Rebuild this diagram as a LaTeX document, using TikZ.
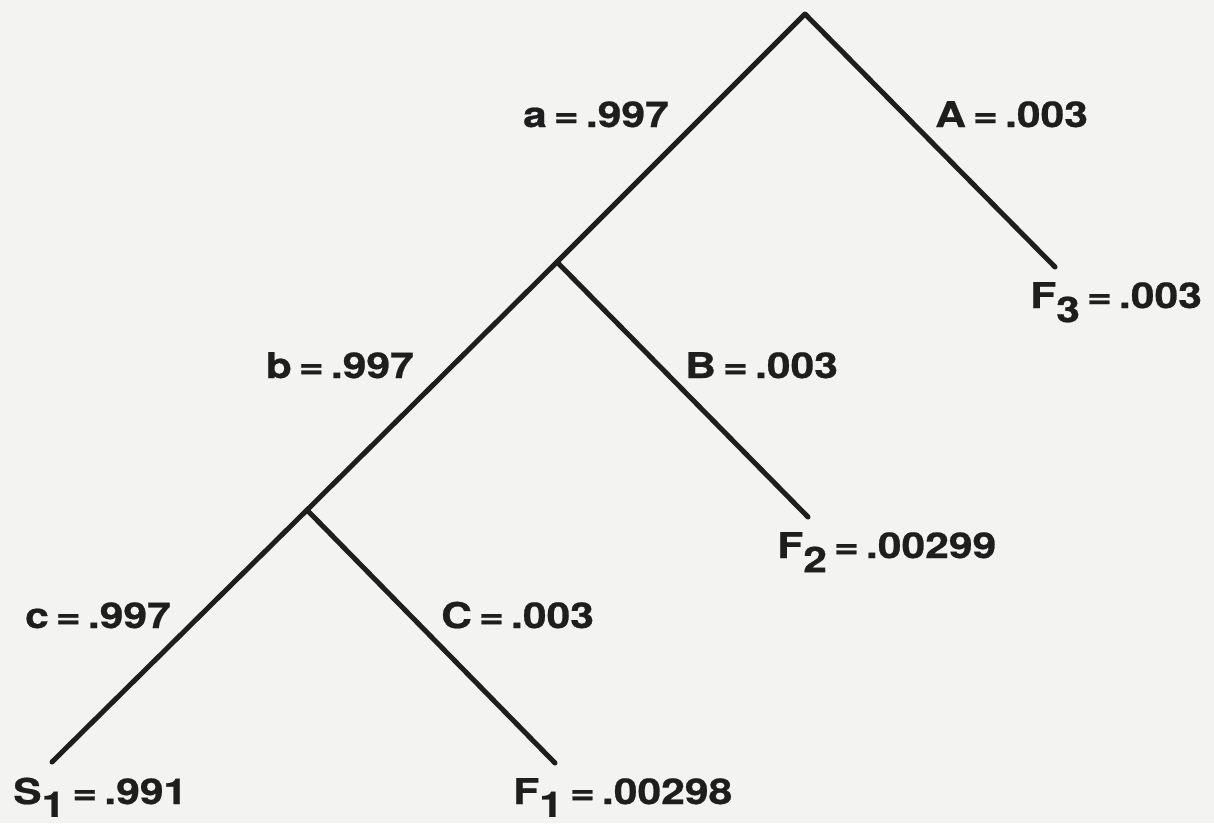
\documentclass[tikz,border=0pt]{standalone}
\usepackage{fontspec}
\setmainfont{TeX Gyre Heros}[BoldFeatures={FakeBold=0.6}]
\newcommand{\lowsub}[1]{\raisebox{-0.40em}{#1}}
\newcommand{\lowsubb}[1]{\raisebox{-0.36em}{#1}}
\newcommand{\lt}[1]{\scalebox{1.2}[1]{#1}}
\definecolor{paper}{HTML}{F3F3F1}
\definecolor{ink}{HTML}{1E1E1E}
\tikzset{
  lbl/.style={inner sep=0pt, font=\fontsize{35.5}{40}\selectfont\bfseries, text=ink},
  branch/.style={line width=5pt, draw=ink, line cap=round, line join=round}
}
\begin{document}
\begin{tikzpicture}[x=1pt,y=-1pt]
\useasboundingbox (0,0) rectangle (1214,823);
\fill[paper] (0,0) rectangle (1214,823);
% tree vertices
\coordinate (apex) at (805,14);
\coordinate (jb) at (557,262);
\coordinate (jc) at (307,510);
\coordinate (f3) at (1055,267);
\coordinate (f2) at (808,517);
\coordinate (s1) at (52,762);
\coordinate (f1) at (555,763);
% branches
\draw[branch] (jb) -- (apex) -- (f3);
\draw[branch] (jc) -- (jb);
\draw[branch] (jb) -- (f2);
\draw[branch] (s1) -- (jc);
\draw[branch] (jc) -- (f1);
% branch labels
\node[lbl, anchor=base east] (la) at (669,127) {\lt{a\,=\,.997}};
\node[lbl, anchor=base west] (lA) at (935,127) {\lt{A\,=\,.003}};
\node[lbl, anchor=base east] (lb) at (414,378) {\lt{b\,=\,.997}};
\node[lbl, anchor=base west] (lB) at (685,378) {\lt{B\,=\,.003}};
\node[lbl, anchor=base east] (lc) at (171,628) {\lt{c\,=\,.997}};
\node[lbl, anchor=base west] (lC) at (441,628) {\lt{C\,=\,.003}};
% outcomes
\node[lbl, anchor=base west] (oF3) at (1030,308) {\lt{F\lowsub{3}\,=\,.003}};
\node[lbl, anchor=base west] (oF2) at (777,558) {\lt{F\lowsub{2}\,=\,.00299}};
\node[lbl, anchor=base west] (oS1) at (13,804) {\lt{S\lowsubb{1}\,=\,.991}};
\node[lbl, anchor=base west] (oF1) at (513,804) {\lt{F\lowsubb{1}\,=\,.00298}};
\end{tikzpicture}
\end{document}
